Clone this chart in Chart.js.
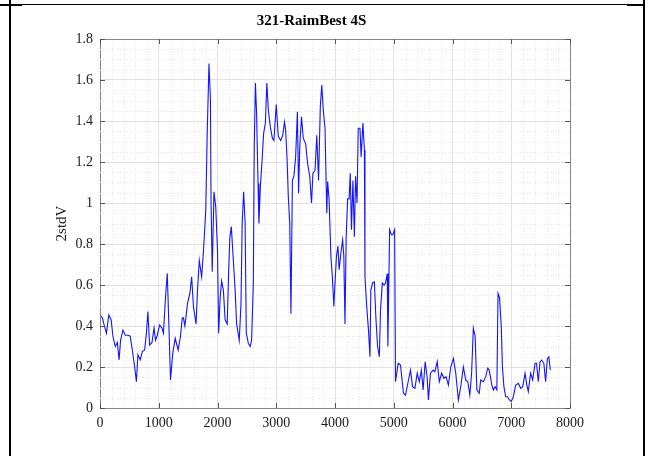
<!DOCTYPE html>
<html>
<head>
  <meta charset="utf-8" />
  <title>321-RaimBest 4S</title>
  <script src="https://cdn.jsdelivr.net/npm/chart.js"></script>
  <style>
    body { margin: 0; background: #ffffff; }
    #wrap { position: relative; width: 651px; height: 456px; overflow: hidden; }
    #chart { position: absolute; left: 0; top: 0; }
    /* page frame lines around the figure */
    .ln { position: absolute; background: #000; }
    #ln-left { left: 9px; top: 0; width: 2px; height: 456px; }
    #ln-right { left: 643px; top: 0; width: 2px; height: 456px; }
    #ln-top { left: 0; top: 4px; width: 645px; height: 1px; }
    #ln-tl { left: 0; top: 4px; width: 22px; height: 2px; }
    #ln-tr { left: 627px; top: 4px; width: 18px; height: 2px; }
  </style>
</head>
<body>
  <div id="wrap">
    <div class="ln" id="ln-left"></div>
    <div class="ln" id="ln-right"></div>
    <div class="ln" id="ln-top"></div>
    <div class="ln" id="ln-tl"></div>
    <div class="ln" id="ln-tr"></div>
    <canvas id="chart" width="651" height="456"></canvas>
  </div>
  <script>
    // sample index (x) and 2stdV value (y)
    const sampleX = [
      10, 40, 70, 110, 150, 190, 220, 260, 295, 325, 350, 390, 430, 475, 515, 550, 590, 620, 645, 685,
      720, 760, 790, 815, 845, 885, 920, 945, 975, 1015, 1055, 1080, 1115, 1145, 1175, 1200, 1240, 1280, 1330, 1370,
      1400, 1420, 1445, 1490, 1530, 1560, 1590, 1635, 1660, 1690, 1730, 1760, 1800, 1825, 1855, 1880, 1890, 1910, 1940, 1970,
      2000, 2020, 2045, 2070, 2100, 2130, 2165, 2190, 2210, 2235, 2255, 2300, 2325, 2370, 2400, 2420, 2445, 2470, 2490, 2525,
      2555, 2580, 2610, 2625, 2645, 2665, 2690, 2705, 2730, 2755, 2785, 2815, 2840, 2865, 2900, 2935, 2960, 3000, 3035, 3075,
      3110, 3140, 3160, 3185, 3205, 3230, 3250, 3275, 3300, 3330, 3360, 3380, 3400, 3430, 3460, 3500, 3535, 3570, 3600, 3625,
      3660, 3690, 3720, 3750, 3775, 3800, 3830, 3860, 3875, 3900, 3930, 3955, 3980, 4000, 4025, 4050, 4070, 4100, 4130, 4150,
      4170, 4190, 4215, 4240, 4260, 4280, 4305, 4330, 4350, 4375, 4395, 4425, 4445, 4475, 4500, 4510, 4540, 4570, 4595, 4610,
      4640, 4670, 4695, 4725, 4755, 4775, 4805, 4835, 4860, 4890, 4900, 4930, 4960, 4985, 5015, 5030, 5075, 5115, 5165, 5200,
      5245, 5285, 5320, 5360, 5400, 5435, 5470, 5500, 5535, 5570, 5590, 5625, 5670, 5700, 5740, 5775, 5815, 5855, 5890, 5930,
      5970, 6015, 6055, 6100, 6140, 6185, 6225, 6260, 6295, 6325, 6355, 6385, 6415, 6455, 6480, 6525, 6565, 6600, 6625, 6670,
      6695, 6725, 6755, 6775, 6800, 6830, 6850, 6875, 6905, 6935, 6970, 7000, 7035, 7075, 7120, 7160, 7195, 7235, 7265, 7290,
      7330, 7365, 7405, 7430, 7460, 7490, 7520, 7555, 7585, 7615, 7640, 7665
    ];
    const sampleY = [
      0.45, 0.44, 0.405, 0.365, 0.454, 0.43, 0.35, 0.30, 0.32, 0.235, 0.33, 0.38, 0.355, 0.355, 0.35, 0.283, 0.20, 0.128, 0.26, 0.235,
      0.275, 0.283, 0.365, 0.47, 0.307, 0.32, 0.39, 0.33, 0.355, 0.405, 0.39, 0.365, 0.54, 0.657, 0.38, 0.137, 0.27, 0.34, 0.283, 0.35,
      0.44, 0.44, 0.40, 0.51, 0.56, 0.64, 0.495, 0.41, 0.575, 0.72, 0.64, 0.76, 0.965, 1.34, 1.68, 1.50, 1.01, 0.665, 1.055, 0.98,
      0.77, 0.365, 0.54, 0.62, 0.575, 0.43, 0.41, 0.67, 0.83, 0.885, 0.79, 0.575, 0.41, 0.33, 0.51, 0.90, 1.055, 0.90, 0.365, 0.315,
      0.30, 0.33, 0.61, 1.26, 1.585, 1.44, 1.095, 0.90, 1.08, 1.19, 1.34, 1.39, 1.585, 1.455, 1.37, 1.315, 1.305, 1.48, 1.325, 1.305,
      1.33, 1.395, 1.355, 1.21, 1.03, 0.90, 0.46, 1.11, 1.13, 1.225, 1.445, 1.047, 1.275, 1.42, 1.315, 1.29, 1.19, 1.13, 1.00, 1.145,
      1.16, 1.33, 1.11, 1.47, 1.575, 1.455, 1.365, 0.95, 1.105, 1.015, 0.74, 0.64, 0.495, 0.61, 0.74, 0.79, 0.675, 0.755, 0.82, 0.74,
      0.41, 0.835, 1.02, 1.02, 1.145, 0.87, 1.11, 0.835, 1.13, 1.00, 1.365, 1.365, 1.225, 1.39, 1.26, 0.64, 0.495, 0.38, 0.25, 0.575,
      0.61, 0.615, 0.445, 0.30, 0.25, 0.48, 0.61, 0.60, 0.61, 0.655, 0.30, 0.87, 0.845, 0.845, 0.87, 0.128, 0.218, 0.21, 0.072, 0.063,
      0.128, 0.185, 0.104, 0.096, 0.17, 0.128, 0.185, 0.088, 0.226, 0.145, 0.039, 0.17, 0.185, 0.177, 0.226, 0.128, 0.17, 0.145, 0.153, 0.112,
      0.20, 0.242, 0.17, 0.039, 0.104, 0.20, 0.137, 0.128, 0.063, 0.17, 0.39, 0.35, 0.088, 0.072, 0.137, 0.128, 0.153, 0.194, 0.185, 0.112,
      0.088, 0.104, 0.088, 0.56, 0.54, 0.40, 0.20, 0.104, 0.055, 0.055, 0.039, 0.031, 0.055, 0.112, 0.12, 0.096, 0.104, 0.17, 0.112, 0.08,
      0.17, 0.137, 0.218, 0.218, 0.128, 0.226, 0.234, 0.218, 0.128, 0.242, 0.25, 0.185
    ];
    // axis ranges and ticks
    const xRange = [0, 8000];
    const xStep = 1000;
    const xMinorStep = 200;
    const yRange = [0, 1.8];
    const yStep = 0.2;
    const yMinorStep = 0.05;

    const serif = "'Liberation Serif', 'Times New Roman', serif";
    const axisColor = '#858585';

    // minor dotted grid, box on top/right and inward tick marks (matlab look)
    const matlabAxes = {
      id: 'matlabAxes',
      beforeDatasetsDraw(chart) {
        const { ctx, chartArea: a, scales: { x, y } } = chart;
        ctx.save();
        ctx.strokeStyle = '#e6e6e6';
        ctx.lineWidth = 1;
        ctx.setLineDash([1, 2]);
        for (let v = xRange[0] + xMinorStep; v < xRange[1]; v += xMinorStep) {
          if (Math.abs(v % xStep) < 1e-6) continue;
          const px = Math.round(x.getPixelForValue(v)) + 0.5;
          ctx.beginPath(); ctx.moveTo(px, a.top); ctx.lineTo(px, a.bottom); ctx.stroke();
        }
        for (let i = 1; i * yMinorStep < yRange[1] - 1e-9; i++) {
          if (i % 4 === 0) continue;
          const py = Math.round(y.getPixelForValue(i * yMinorStep)) + 0.5;
          ctx.beginPath(); ctx.moveTo(a.left, py); ctx.lineTo(a.right, py); ctx.stroke();
        }
        ctx.restore();
      },
      afterDraw(chart) {
        const { ctx, chartArea: a, scales: { x, y } } = chart;
        ctx.save();
        ctx.strokeStyle = axisColor;
        ctx.lineWidth = 1;
        ctx.beginPath();
        ctx.moveTo(a.left, a.top + 0.5); ctx.lineTo(a.right + 0.5, a.top + 0.5);
        ctx.lineTo(a.right + 0.5, a.bottom);
        ctx.stroke();
        ctx.strokeStyle = '#555';
        const len = 5;
        x.ticks.forEach(t => {
          const px = Math.round(x.getPixelForValue(t.value)) + 0.5;
          ctx.beginPath();
          ctx.moveTo(px, a.bottom); ctx.lineTo(px, a.bottom - len);
          ctx.moveTo(px, a.top); ctx.lineTo(px, a.top + len);
          ctx.stroke();
        });
        y.ticks.forEach(t => {
          const py = Math.round(y.getPixelForValue(t.value)) + 0.5;
          ctx.beginPath();
          ctx.moveTo(a.left, py); ctx.lineTo(a.left + len, py);
          ctx.moveTo(a.right, py); ctx.lineTo(a.right - len, py);
          ctx.stroke();
        });
        ctx.restore();
      }
    };

    new Chart(document.getElementById('chart'), {
      type: 'scatter',
      data: {
        datasets: [{
          data: sampleX.map((v, i) => ({ x: v, y: sampleY[i] })),
          showLine: true,
          borderColor: '#1414ff',
          borderWidth: 1.1,
          pointRadius: 0,
          tension: 0
        }]
      },
      options: {
        responsive: false,
        animation: false,
        events: [],
        layout: { padding: { left: 53, right: 81, top: 0, bottom: 0 } },
        plugins: {
          legend: { display: false },
          tooltip: { enabled: false },
          title: {
            display: true,
            text: '321-RaimBest 4S',
            color: '#000',
            font: { family: serif, size: 15, weight: 'bold', lineHeight: 1.2 },
            padding: { top: 12, bottom: 9 }
          }
        },
        scales: {
          x: {
            type: 'linear',
            min: xRange[0], max: xRange[1],
            afterFit(s) { s.height = 48; },
            ticks: {
              stepSize: xStep, padding: 7, color: '#1a1a1a',
              font: { family: serif, size: 14 },
              callback: v => String(v)
            },
            grid: { color: '#e2e2e2', drawTicks: false },
            border: { color: axisColor }
          },
          y: {
            min: yRange[0], max: yRange[1],
            afterFit(s) { s.width = 47; },
            ticks: {
              stepSize: yStep, padding: 7, color: '#1a1a1a',
              font: { family: serif, size: 14 },
              callback: v => String(Number(v.toFixed(1)))
            },
            grid: { color: '#e2e2e2', drawTicks: false },
            border: { color: axisColor },
            title: {
              display: true,
              text: '2stdV',
              color: '#1a1a1a',
              font: { family: serif, size: 15, lineHeight: 1.2 },
              padding: 0
            }
          }
        }
      },
      plugins: [matlabAxes]
    });
  </script>
</body>
</html>
